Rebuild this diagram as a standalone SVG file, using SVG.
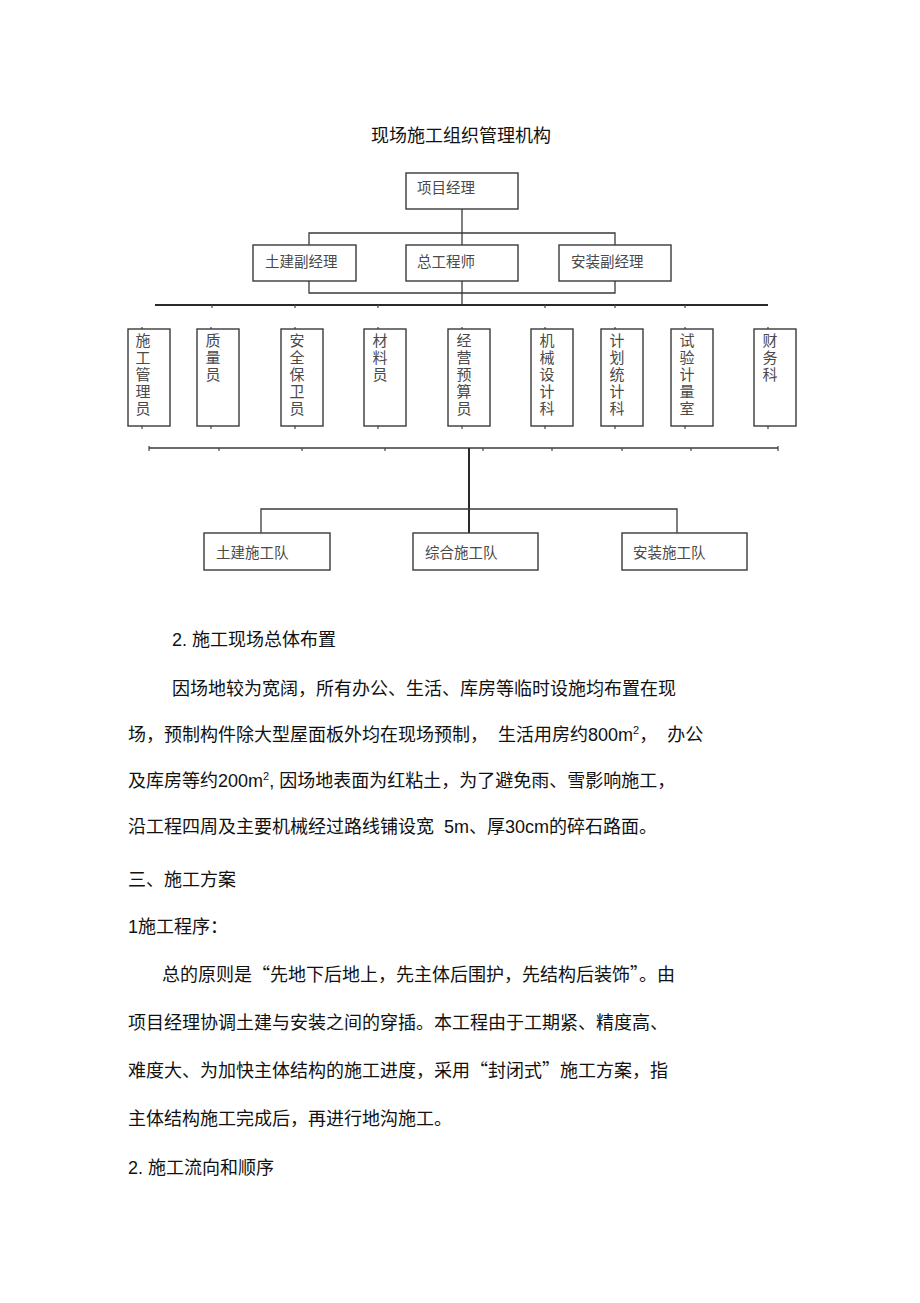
<svg xmlns="http://www.w3.org/2000/svg" width="920" height="1303" viewBox="0 0 920 1303">
<style>
.bg{fill:#fff}
.box{fill:#fff;stroke:#3a3a3a;stroke-width:1.4}
.ln{fill:none;stroke:#3a3a3a;stroke-width:1.3}
.thk{fill:none;stroke:#2a2a2a;stroke-width:2}
.tk{fill:none;stroke:#444;stroke-width:1.2}
.lab{font-family:"Noto Sans CJK SC","Noto Sans CJK TC",sans-serif;font-size:14.5px;fill:#4a4a4a}
.vl{font-family:"Noto Sans CJK SC",sans-serif;font-size:15px;fill:#4a4a4a;writing-mode:vertical-rl;letter-spacing:2px}
.p{font-family:"Liberation Sans","Noto Sans CJK SC",sans-serif;font-size:18px;fill:#111;white-space:pre}
.cj{font-family:"Noto Sans CJK SC",sans-serif}
.sup{font-size:11px}
</style>
<rect class="bg" x="0" y="0" width="920" height="1303"/>
<text class="p" x="461" y="142" text-anchor="middle">现场施工组织管理机构</text>

<g id="connectors">
<line class="ln" x1="462" y1="209" x2="462" y2="245"/>
<polyline class="ln" points="309,245 309,233 615,233 615,245"/>
<polyline class="ln" points="309,281 309,293 615,293 615,281"/>
<line class="ln" x1="462" y1="281" x2="462" y2="305"/>
<line class="thk" x1="155" y1="305" x2="768" y2="305"/>
<line class="ln" x1="149" y1="448" x2="778" y2="448"/>
<line class="thk" x1="469" y1="448" x2="469" y2="533"/>
<polyline class="ln" points="261,533 261,509 677,509 677,533"/>
<g class="tk">
<line x1="212" y1="305" x2="212" y2="308"/><line x1="295" y1="305" x2="295" y2="308"/><line x1="378" y1="305" x2="378" y2="308"/><line x1="545" y1="305" x2="545" y2="308"/><line x1="615" y1="305" x2="615" y2="308"/><line x1="685" y1="305" x2="685" y2="308"/>
<line x1="142" y1="327" x2="142" y2="329"/><line x1="211" y1="327" x2="211" y2="329"/><line x1="295" y1="327" x2="295" y2="329"/><line x1="378" y1="327" x2="378" y2="329"/><line x1="462" y1="327" x2="462" y2="329"/><line x1="545" y1="327" x2="545" y2="329"/><line x1="615" y1="327" x2="615" y2="329"/><line x1="685" y1="327" x2="685" y2="329"/><line x1="768" y1="327" x2="768" y2="329"/>
<line x1="142" y1="426" x2="142" y2="429"/><line x1="211" y1="426" x2="211" y2="429"/><line x1="295" y1="426" x2="295" y2="429"/><line x1="378" y1="426" x2="378" y2="429"/><line x1="462" y1="426" x2="462" y2="429"/><line x1="545" y1="426" x2="545" y2="429"/><line x1="615" y1="426" x2="615" y2="429"/><line x1="685" y1="426" x2="685" y2="429"/><line x1="768" y1="426" x2="768" y2="429"/>
<line x1="219" y1="448" x2="219" y2="451"/><line x1="302" y1="448" x2="302" y2="451"/><line x1="385" y1="448" x2="385" y2="451"/><line x1="483" y1="448" x2="483" y2="451"/><line x1="552" y1="448" x2="552" y2="451"/><line x1="622" y1="448" x2="622" y2="451"/><line x1="691" y1="448" x2="691" y2="451"/><line x1="778" y1="446" x2="778" y2="451"/><line x1="149" y1="446" x2="149" y2="451"/>
</g>
</g>

<g id="n-xmjl"><rect class="box" x="406" y="173" width="112" height="36"/><text class="lab" x="417" y="193">项目经理</text></g>
<g id="n-tjfjl"><rect class="box" x="253" y="245" width="103" height="36"/><text class="lab" x="265" y="267">土建副经理</text></g>
<g id="n-zgcs"><rect class="box" x="406" y="245" width="112" height="36"/><text class="lab" x="417" y="267">总工程师</text></g>
<g id="n-azfjl"><rect class="box" x="559" y="245" width="112" height="36"/><text class="lab" x="571" y="267">安装副经理</text></g>

<g id="n-sggly"><rect class="box" x="128" y="329" width="42" height="97"/><text class="vl" x="143" y="333">施工管理员</text></g>
<g id="n-zly"><rect class="box" x="197" y="329" width="42" height="97"/><text class="vl" x="213" y="333">质量员</text></g>
<g id="n-aqbwy"><rect class="box" x="281" y="329" width="42" height="97"/><text class="vl" x="297" y="333">安全保卫员</text></g>
<g id="n-cly"><rect class="box" x="364" y="329" width="42" height="97"/><text class="vl" x="380" y="333">材料员</text></g>
<g id="n-jyysy"><rect class="box" x="448" y="329" width="42" height="97"/><text class="vl" x="464" y="333">经营预算员</text></g>
<g id="n-jxsjk"><rect class="box" x="531" y="329" width="42" height="97"/><text class="vl" x="547" y="333">机械设计科</text></g>
<g id="n-jhtjk"><rect class="box" x="601" y="329" width="42" height="97"/><text class="vl" x="617" y="333">计划统计科</text></g>
<g id="n-syjls"><rect class="box" x="671" y="329" width="42" height="97"/><text class="vl" x="687" y="333">试验计量室</text></g>
<g id="n-cwk"><rect class="box" x="754" y="329" width="42" height="97"/><text class="vl" x="770" y="333">财务科</text></g>

<g id="n-tjsgd"><rect class="box" x="204" y="533" width="126" height="37"/><text class="lab" x="216" y="558">土建施工队</text></g>
<g id="n-zhsgd"><rect class="box" x="413" y="533" width="125" height="37"/><text class="lab" x="425" y="558">综合施工队</text></g>
<g id="n-azsgd"><rect class="box" x="622" y="533" width="125" height="37"/><text class="lab" x="633" y="558">安装施工队</text></g>

<text class="p" x="172" y="646">2. 施工现场总体布置</text>
<text class="p" x="172" y="695">因场地较为宽阔，所有办公、生活、库房等临时设施均布置在现</text>
<text class="p" x="128" y="741">场，预制构件除大型屋面板外均在现场预制，  生活用房约800m<tspan class="sup" dy="-7">2</tspan><tspan dy="7">，  办公</tspan></text>
<text class="p" x="128" y="787">及库房等约200m<tspan class="sup" dy="-7">2</tspan><tspan dy="7">, 因场地表面为红粘土，为了避免雨、雪影响施工，</tspan></text>
<text class="p" x="128" y="833">沿工程四周及主要机械经过路线铺设宽  5m、厚30cm的碎石路面。</text>
<text class="p" x="128" y="886">三、施工方案</text>
<text class="p" x="128" y="933">1施工程序：</text>
<text class="p" x="162" y="981">总的原则是<tspan class="cj">“</tspan>先地下后地上，先主体后围护，先结构后装饰<tspan class="cj">”</tspan>。由</text>
<text class="p" x="128" y="1029">项目经理协调土建与安装之间的穿插。本工程由于工期紧、精度高、</text>
<text class="p" x="128" y="1077">难度大、为加快主体结构的施工进度，采用<tspan class="cj">“</tspan>封闭式<tspan class="cj">”</tspan>施工方案，指</text>
<text class="p" x="128" y="1125">主体结构施工完成后，再进行地沟施工。</text>
<text class="p" x="128" y="1174">2. 施工流向和顺序</text>
</svg>
